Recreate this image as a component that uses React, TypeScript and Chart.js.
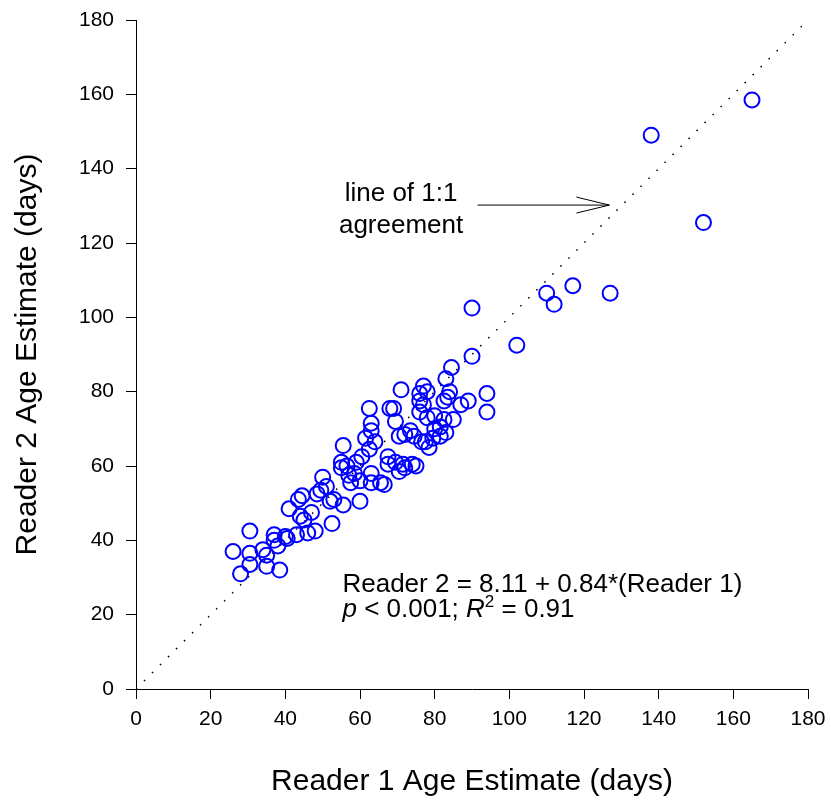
import { useEffect, useRef } from "react";
import { Chart, registerables } from "chart.js";

Chart.register(...registerables);

// Reader 1 (x) and Reader 2 (y) age estimates, days
const reader1 = [
  165, 138, 152, 127, 117, 110, 112, 102, 90, 90, 84.5, 83,
  71, 77, 78, 84, 94, 94, 89, 87, 83.5, 82.5, 76, 77, 76, 78, 80, 82.5, 85, 80, 81.5,
  74.5, 76.5, 77.5, 79.5, 78.5, 81.5, 83, 72, 70.5, 69.5, 73.5,
  62.5, 68, 69, 63, 63, 61.5, 64, 67.5, 69.5, 62.5, 60.5, 67.5, 71.5, 74, 75, 70.5,
  63, 65.5, 63, 60, 57, 57.5, 60, 55.5, 55, 55, 56.5, 66.5,
  50, 49.5, 48.5, 51, 52, 55.5, 52.5, 53, 47, 44.5, 43.5, 41, 44, 45, 46, 48, 43,
  40, 40.5, 37, 37, 38, 38.5, 35, 35, 34, 30.5, 30.5, 30.5, 28, 26,
  58.5, 59, 72, 76,
];
const reader2 = [
  158.5, 149, 125.5, 106.5, 108.5, 106.5, 103.5, 92.5, 102.5, 89.5, 86.5, 83.5,
  80.5, 81.5, 80, 80, 79.5, 74.5, 77.5, 76.5, 78.5, 77.5, 77.5, 76.5, 74.5, 73, 73.5, 72.5, 72.5, 70, 70.5,
  68, 66.5, 66.5, 67.5, 65, 68, 69, 68.5, 68, 72, 69.5,
  75.5, 75.5, 75.5, 71.5, 69.5, 67.5, 66.5, 62.5, 61, 64.5, 62.5, 60.5, 60.5, 60.5, 60, 58.5,
  58, 55.5, 55.5, 56, 57.5, 55.5, 50.5, 65.5, 61, 59.5, 60, 55,
  57, 53.5, 52.5, 54.5, 50.5, 49.5, 44.5, 51, 47.5, 52, 51, 48.5, 46.5, 45.5, 42, 42.5, 41.5,
  41, 40.5, 41.5, 40, 38.5, 32, 36, 33, 37.5, 42.5, 36.5, 33.5, 31, 37,
  58, 61, 59.5, 79.5,
];

// 1:1 agreement line
const identityX = [0, 180];
const identityY = [0, 180];

const tickValues = [0, 20, 40, 60, 80, 100, 120, 140, 160, 180];

const FONT = '"Liberation Sans", Arial, sans-serif';

const annotationPlugin = {
  id: "annotations",
  afterDraw(chart: any) {
    const { ctx, scales } = chart;
    const x = scales.x;
    const y = scales.y;
    ctx.save();
    ctx.fillStyle = "#000";
    ctx.strokeStyle = "#000";

    // "line of 1:1 agreement"
    ctx.font = `26px ${FONT}`;
    ctx.textAlign = "center";
    ctx.textBaseline = "alphabetic";
    ctx.fillText("line of 1:1", x.getPixelForValue(71.0), y.getPixelForValue(131.4));
    ctx.fillText("agreement", x.getPixelForValue(71.0), y.getPixelForValue(122.7));

    // arrow
    const ax0 = x.getPixelForValue(91.5);
    const ax1 = x.getPixelForValue(126.8);
    const ay = y.getPixelForValue(130.2);
    ctx.lineWidth = 1;
    ctx.beginPath();
    ctx.moveTo(ax0, ay);
    ctx.lineTo(ax1, ay);
    ctx.moveTo(ax1 - 33, ay - 8);
    ctx.lineTo(ax1, ay);
    ctx.lineTo(ax1 - 33, ay + 8);
    ctx.stroke();

    // regression equation
    ctx.textAlign = "left";
    ctx.textBaseline = "alphabetic";
    const ex = x.getPixelForValue(55.3);
    ctx.font = `26px ${FONT}`;
    ctx.fillText("Reader 2 = 8.11 + 0.84*(Reader 1)", ex, y.getPixelForValue(26.2));

    const ly = y.getPixelForValue(19.4);
    let cx = ex;
    const parts: [string, string, number][] = [
      ["p", `italic 26px ${FONT}`, 0],
      [" < 0.001; ", `26px ${FONT}`, 0],
      ["R", `italic 26px ${FONT}`, 0],
      ["2", `17px ${FONT}`, -10],
      [" = 0.91", `26px ${FONT}`, 0],
    ];
    for (const [t, f, dy] of parts) {
      ctx.font = f;
      ctx.fillText(t, cx, ly + dy);
      cx += ctx.measureText(t).width;
    }
    ctx.restore();
  },
};

export default function App() {
  const ref = useRef<HTMLCanvasElement | null>(null);

  useEffect(() => {
    document.body.style.margin = "0";
    const canvas = ref.current;
    if (!canvas) return;

    const points = reader1.map((v, i) => ({ x: v, y: reader2[i] }));
    const identity = identityX.map((v, i) => ({ x: v, y: identityY[i] }));

    const axisCommon = {
      type: "linear" as const,
      min: 0,
      max: 180,
      border: { display: true, color: "#000", width: 1 },
      grid: {
        display: true,
        drawOnChartArea: false,
        drawTicks: true,
        tickLength: 10,
        color: "#000",
        tickColor: "#000",
        tickWidth: 1,
      },
    };

    const chart = new Chart(canvas, {
      type: "scatter",
      data: {
        datasets: [
          {
            label: "1:1",
            data: identity,
            showLine: true,
            borderColor: "#000",
            borderWidth: 1.5,
            borderDash: [1.5, 9.8],
            pointRadius: 0,
            fill: false,
            order: 2,
          },
          {
            label: "points",
            data: points,
            pointStyle: "circle",
            pointRadius: 7.5,
            pointBorderWidth: 2,
            borderColor: "#0000ff",
            backgroundColor: "rgba(0,0,0,0)",
            pointBackgroundColor: "rgba(0,0,0,0)",
            pointBorderColor: "#0000ff",
            order: 1,
          } as any,
        ],
      },
      options: {
        responsive: false,
        animation: false,
        devicePixelRatio: 1,
        layout: { padding: { left: 0, right: 23, top: 20, bottom: 0 } },
        plugins: {
          legend: { display: false },
          tooltip: { enabled: false },
        },
        scales: {
          x: {
            ...axisCommon,
            position: "bottom",
            title: {
              display: true,
              text: "Reader 1 Age Estimate (days)",
              color: "#000",
              font: { family: FONT, size: 30 },
              padding: { top: 0, bottom: 5 },
            },
            ticks: {
              stepSize: 20,
              color: "#000",
              font: { family: FONT, size: 21 },
              padding: 8,
              maxRotation: 0,
              autoSkip: false,
            },
            afterBuildTicks: (s: any) => {
              s.ticks = tickValues.map((v) => ({ value: v }));
            },
            afterFit: (s: any) => {
              s.height = 116;
              s.paddingLeft = 0;
              s.paddingRight = 0;
            },
          },
          y: {
            ...axisCommon,
            position: "left",
            title: {
              display: true,
              text: "Reader 2 Age Estimate (days)",
              color: "#000",
              font: { family: FONT, size: 30 },
              padding: { top: 10, bottom: 0 },
            },
            ticks: {
              stepSize: 20,
              color: "#000",
              font: { family: FONT, size: 21 },
              padding: 12,
              autoSkip: false,
            },
            afterBuildTicks: (s: any) => {
              s.ticks = tickValues.map((v) => ({ value: v }));
            },
            afterFit: (s: any) => {
              s.width = 136;
              s.paddingTop = 0;
              s.paddingBottom = 0;
            },
          },
        },
      } as any,
      plugins: [annotationPlugin],
    });

    return () => chart.destroy();
  }, []);

  return (
    <div style={{ position: "absolute", left: 0, top: 0, width: 831, height: 805 }}>
      <canvas ref={ref} width={831} height={805} style={{ width: 831, height: 805, display: "block" }} />
    </div>
  );
}
